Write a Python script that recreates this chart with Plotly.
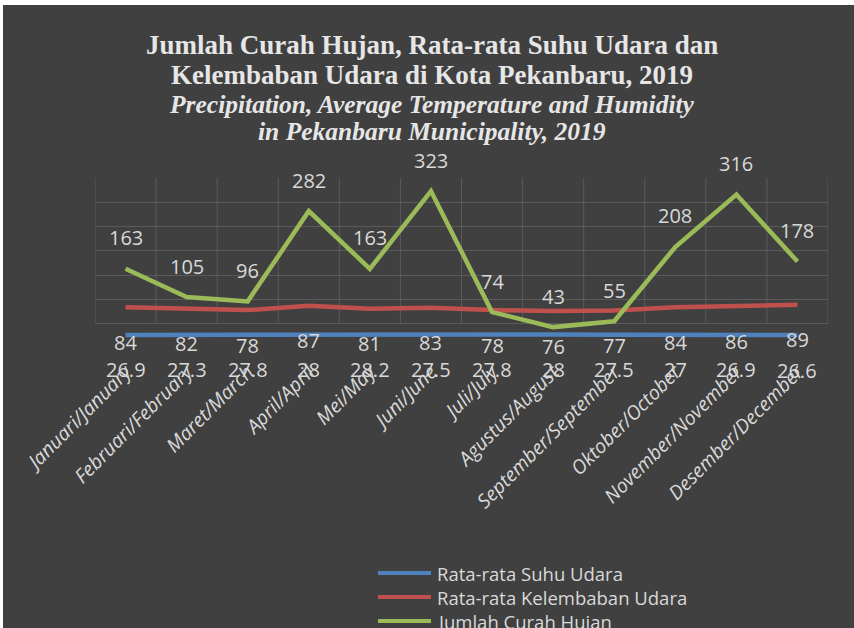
import plotly.graph_objects as go

months = ['Januari/January', 'Februari/February', 'Maret/March', 'April/April',
          'Mei/May', 'Juni/June', 'Juli/July', 'Agustus/August',
          'September/September', 'Oktober/October', 'November/November', 'Desember/December']
temperature = [26.9, 27.3, 27.8, 28, 28.2, 27.5, 27.8, 28, 27.5, 27, 26.9, 26.6]
humidity = [84, 82, 78, 87, 81, 83, 78, 76, 77, 84, 86, 89]
rainfall = [163, 105, 96, 282, 163, 323, 74, 43, 55, 208, 316, 178]

series_names = ['Rata-rata Suhu Udara', 'Rata-rata Kelembaban Udara', 'Jumlah Curah Hujan']
colors = ['#4F81BD', '#C0504D', '#9BBB59']

title_lines = ['Jumlah Curah Hujan, Rata-rata Suhu Udara dan',
               'Kelembaban Udara di Kota Pekanbaru, 2019',
               'Precipitation, Average Temperature and Humidity',
               'in Pekanbaru Municipality, 2019']

W, H = 854, 628
L, R, T, B = 95, 26, 178, 280
PW, PH = W - L - R, H - T - B
TXT = '#d9d9d9'
BG = '#404040'


def px2x(px):
    return (px - L) / PW


def px2y(py):
    return (H - B - py) / PH


fig = go.Figure()
for name, vals, col in zip(series_names, [temperature, humidity, rainfall], colors):
    fig.add_trace(go.Scatter(x=months, y=vals, mode='lines', name=name,
                             line=dict(color=col, width=4.5), showlegend=False,
                             hoverinfo='skip'))

annotations = []
label_font = dict(family='Open Sans', size=20, color=TXT)
for m, v in zip(months, rainfall):
    annotations.append(dict(x=m, y=v, text=str(v), showarrow=False, yshift=31,
                            font=label_font, xref='x', yref='y'))
for m, v in zip(months, humidity):
    annotations.append(dict(x=m, y=v, text=str(v), showarrow=False, yshift=-35,
                            font=label_font, xref='x', yref='y'))
for m, v in zip(months, temperature):
    annotations.append(dict(x=m, y=v, text=f'{v:g}', showarrow=False, yshift=-35,
                            font=label_font, xref='x', yref='y'))

# title lines
title_pos = [45, 75, 104, 131]
for i, (t, py) in enumerate(zip(title_lines, title_pos)):
    if i < 2:
        txt = f'<b>{t}</b>'
        sz = 27
    else:
        txt = f'<b><i>{t}</i></b>'
        sz = 25.5
    annotations.append(dict(x=px2x(432), y=px2y(py), xref='paper', yref='paper',
                            text=txt, showarrow=False, xanchor='center', yanchor='middle',
                            font=dict(family='Liberation Serif', size=sz, color='#e6e6e6')))

shapes = [dict(type='rect', xref='paper', yref='paper', x0=px2x(3), x1=px2x(W + 5),
               y0=px2y(5), y1=px2y(H + 5), fillcolor=BG, line=dict(width=0), layer='below')]
# vertical category gridlines
for i in range(len(months) + 1):
    shapes.append(dict(type='line', xref='x', yref='y', x0=i - 0.5, x1=i - 0.5, y0=50, y1=350,
                       line=dict(color='#5a5a5a', width=1), layer='below'))

# manual legend
leg_rows = [573, 597, 621]
for name, col, py in zip(series_names, colors, leg_rows):
    shapes.append(dict(type='line', xref='paper', yref='paper', x0=px2x(378), x1=px2x(431),
                       y0=px2y(py), y1=px2y(py), line=dict(color=col, width=4)))
    annotations.append(dict(x=px2x(435), y=px2y(py), xref='paper', yref='paper', text=name,
                            showarrow=False, xanchor='left', yanchor='middle',
                            font=dict(family='Open Sans', size=18.5, color=TXT)))

fig.update_layout(
    width=W, height=H,
    margin=dict(l=L, r=R, t=T, b=B),
    paper_bgcolor='#ffffff', plot_bgcolor='rgba(0,0,0,0)',
    shapes=shapes, annotations=annotations,
    xaxis=dict(type='category', range=[-0.5, len(months) - 0.5], showgrid=False,
               showline=False, zeroline=False, ticks='', tickangle=-45,
               ticklabelstandoff=8,
               tickfont=dict(family='Open Sans', size=19.5, color=TXT, style='italic')),
    yaxis=dict(range=[0, 350], tickvals=[50, 100, 150, 200, 250, 300, 350],
               showticklabels=False, showgrid=True, gridcolor='#5a5a5a', gridwidth=1,
               zeroline=False, showline=False),
    showlegend=False,
)

fig.write_html('out.html', config={'displayModeBar': False},
               post_script="document.body.style.margin='0';")
